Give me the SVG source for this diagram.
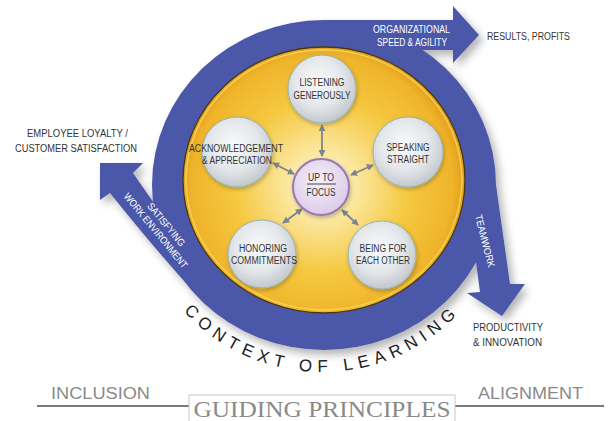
<svg xmlns="http://www.w3.org/2000/svg" width="609" height="421" viewBox="0 0 609 421">
<defs>
<style>
.lbl{font-family:"Liberation Sans",Arial,sans-serif;font-size:10px;fill:#333;}
.wl{font-family:"Liberation Sans",Arial,sans-serif;font-size:10px;fill:#ffffff;}
.nt{font-family:"Liberation Sans",Arial,sans-serif;font-size:10px;fill:#333;text-anchor:middle;}
.node{fill:url(#ng);stroke:#94b6b8;stroke-width:1;filter:url(#nsh);}
.con{stroke:#7b858c;stroke-width:1.8;fill:none;marker-start:url(#ah);marker-end:url(#ah);}
.blue{fill:#4b58a9;}
.gp{font-family:"Liberation Sans",Arial,sans-serif;font-size:16px;fill:#8a8a8a;}
</style>
<radialGradient id="gold" cx="322" cy="186" r="145" gradientUnits="userSpaceOnUse">
<stop offset="0" stop-color="#fffbe4"/>
<stop offset="0.25" stop-color="#fbe69c"/>
<stop offset="0.6" stop-color="#f5c840"/>
<stop offset="0.9" stop-color="#efb42a"/>
<stop offset="1" stop-color="#de9a18"/>
</radialGradient>
<radialGradient id="ng" cx="0.45" cy="0.4" r="0.6">
<stop offset="0" stop-color="#f8f9fa"/>
<stop offset="0.6" stop-color="#e4e7ea"/>
<stop offset="1" stop-color="#c3c8cd"/>
</radialGradient>
<radialGradient id="fg" cx="0.45" cy="0.4" r="0.6">
<stop offset="0" stop-color="#f6f1f9"/>
<stop offset="1" stop-color="#dccbe8"/>
</radialGradient>
<filter id="sh" x="-20%" y="-20%" width="140%" height="140%">
<feGaussianBlur in="SourceAlpha" stdDeviation="4"/>
<feOffset dx="4" dy="5" result="b"/>
<feComponentTransfer><feFuncA type="linear" slope="0.3"/></feComponentTransfer>
<feMerge><feMergeNode/><feMergeNode in="SourceGraphic"/></feMerge>
</filter>
<filter id="nsh" x="-30%" y="-30%" width="160%" height="160%">
<feGaussianBlur in="SourceAlpha" stdDeviation="2"/>
<feOffset dx="1" dy="2"/>
<feComponentTransfer><feFuncA type="linear" slope="0.25"/></feComponentTransfer>
<feMerge><feMergeNode/><feMergeNode in="SourceGraphic"/></feMerge>
</filter>
<marker id="ah" viewBox="0 0 8 8" refX="7" refY="4" markerWidth="7" markerHeight="7" markerUnits="userSpaceOnUse" orient="auto-start-reverse">
<path d="M0,0 L8,4 L0,8 z" fill="#7b858c"/>
</marker>
<path id="arc" d="M134,184 A188,188 0 0 0 510,184"/>
</defs>

<rect width="609" height="421" fill="#ffffff"/>

<g id="flow" filter="url(#sh)">
<ellipse class="blue" cx="324" cy="185" rx="172" ry="165"/>
<path class="blue" d="M324,20 L453,20 L453,6 L479,35 L453,63 L453,50 L423,50 L400,50 L324,50 Z"/>
<path class="blue" d="M496,185 L510,284 L525,284 L502,316 L467,293 L480,292 L476,262 L465,240 L470,185 Z"/>
<path class="blue" d="M100,163 L143,163 L133,173 L156,206 L185,240 L215,300 L206,305 Q162,258 110,193 L100,200 Z"/>
</g>

<ellipse cx="324" cy="180" rx="141" ry="133" fill="url(#gold)" stroke="#4a3a12" stroke-width="1.3"/>
<ellipse cx="324" cy="180" rx="138" ry="130" fill="none" stroke="#f8d862" stroke-width="1.5" opacity="0.8"/>

<text class="wl" x="411.5" y="33" text-anchor="middle" textLength="77" lengthAdjust="spacingAndGlyphs">ORGANIZATIONAL</text>
<text class="wl" x="412" y="46" text-anchor="middle" textLength="70" lengthAdjust="spacingAndGlyphs">SPEED &amp; AGILITY</text>
<text class="wl" transform="translate(485,241) rotate(75.7)" x="0" y="3.5" text-anchor="middle" textLength="54" lengthAdjust="spacingAndGlyphs">TEAMWORK</text>
<g transform="translate(160,227) rotate(50.5)">
<text class="wl" x="2" y="-3" text-anchor="middle" textLength="53" lengthAdjust="spacingAndGlyphs">SATISFYING</text>
<text class="wl" x="0" y="9" text-anchor="middle" textLength="94" lengthAdjust="spacingAndGlyphs">WORK ENVIRONMENT</text>
</g>

<text class="lbl" x="487" y="40" textLength="83" lengthAdjust="spacingAndGlyphs">RESULTS, PROFITS</text>
<text class="lbl" x="77.5" y="137" text-anchor="middle" textLength="101" lengthAdjust="spacingAndGlyphs">EMPLOYEE LOYALTY /</text>
<text class="lbl" x="76" y="152" text-anchor="middle" textLength="122" lengthAdjust="spacingAndGlyphs">CUSTOMER SATISFACTION</text>
<text class="lbl" x="473" y="330.5" textLength="70" lengthAdjust="spacingAndGlyphs">PRODUCTIVITY</text>
<text class="lbl" x="473" y="345.5" textLength="69" lengthAdjust="spacingAndGlyphs">&amp; INNOVATION</text>

<text font-family="'Liberation Sans',Arial,sans-serif" font-size="17" fill="#222" letter-spacing="5.8"><textPath href="#arc" startOffset="50%" text-anchor="middle">CONTEXT OF LEARNING</textPath></text>

<g id="connectors">
<line class="con" x1="322" y1="125" x2="322" y2="156"/>
<line class="con" x1="351" y1="175" x2="373" y2="165"/>
<line class="con" x1="294" y1="174" x2="273" y2="163"/>
<line class="con" x1="302" y1="209" x2="283" y2="223"/>
<line class="con" x1="342" y1="210" x2="358" y2="225"/>
</g>

<g id="listening">
<circle class="node" cx="322" cy="89" r="34"/>
<text class="nt" x="322" y="86" textLength="45" lengthAdjust="spacingAndGlyphs">LISTENING</text>
<text class="nt" x="322" y="98.5" textLength="57" lengthAdjust="spacingAndGlyphs">GENEROUSLY</text>
</g>
<g id="speaking">
<circle class="node" cx="408" cy="152" r="35"/>
<text class="nt" x="408" y="151" textLength="43" lengthAdjust="spacingAndGlyphs">SPEAKING</text>
<text class="nt" x="408" y="163" textLength="42" lengthAdjust="spacingAndGlyphs">STRAIGHT</text>
</g>
<g id="acknowledgement">
<circle class="node" cx="237" cy="152" r="35"/>
<text class="nt" x="236" y="152" textLength="94" lengthAdjust="spacingAndGlyphs">ACKNOWLEDGEMENT</text>
<text class="nt" x="237" y="164" textLength="70" lengthAdjust="spacingAndGlyphs">&amp; APPRECIATION</text>
</g>
<g id="honoring">
<circle class="node" cx="262" cy="254" r="34"/>
<text class="nt" x="263" y="252" textLength="48" lengthAdjust="spacingAndGlyphs">HONORING</text>
<text class="nt" x="264" y="264" textLength="66" lengthAdjust="spacingAndGlyphs">COMMITMENTS</text>
</g>
<g id="being">
<circle class="node" cx="382" cy="255" r="34"/>
<text class="nt" x="383" y="252" textLength="47" lengthAdjust="spacingAndGlyphs">BEING FOR</text>
<text class="nt" x="383" y="264" textLength="54" lengthAdjust="spacingAndGlyphs">EACH OTHER</text>
</g>
<g id="focus">
<circle cx="321" cy="187" r="28" fill="url(#fg)" stroke="#9a78b4" stroke-width="2" filter="url(#nsh)"/>
<text class="nt" x="321" y="181" textLength="26" lengthAdjust="spacingAndGlyphs">UP TO</text>
<line x1="307" y1="184" x2="336" y2="184" stroke="#333" stroke-width="0.9"/>
<text class="nt" x="321" y="196" textLength="29" lengthAdjust="spacingAndGlyphs">FOCUS</text>
</g>

<g id="guiding">
<line x1="37" y1="406" x2="189" y2="406" stroke="#7a7a7a" stroke-width="2"/>
<line x1="455" y1="406" x2="604" y2="406" stroke="#7a7a7a" stroke-width="2"/>
<rect x="189" y="395" width="266" height="30" fill="#ffffff" stroke="#c8c8c8" stroke-width="1"/>
<text x="322" y="416.5" text-anchor="middle" font-family="'Liberation Serif','Times New Roman',serif" font-size="24" fill="#8a8a8a" textLength="257" lengthAdjust="spacingAndGlyphs">GUIDING PRINCIPLES</text>
<text class="gp" x="51" y="399" textLength="99" lengthAdjust="spacingAndGlyphs">INCLUSION</text>
<text class="gp" x="478" y="399" textLength="105" lengthAdjust="spacingAndGlyphs">ALIGNMENT</text>
</g>
</svg>
